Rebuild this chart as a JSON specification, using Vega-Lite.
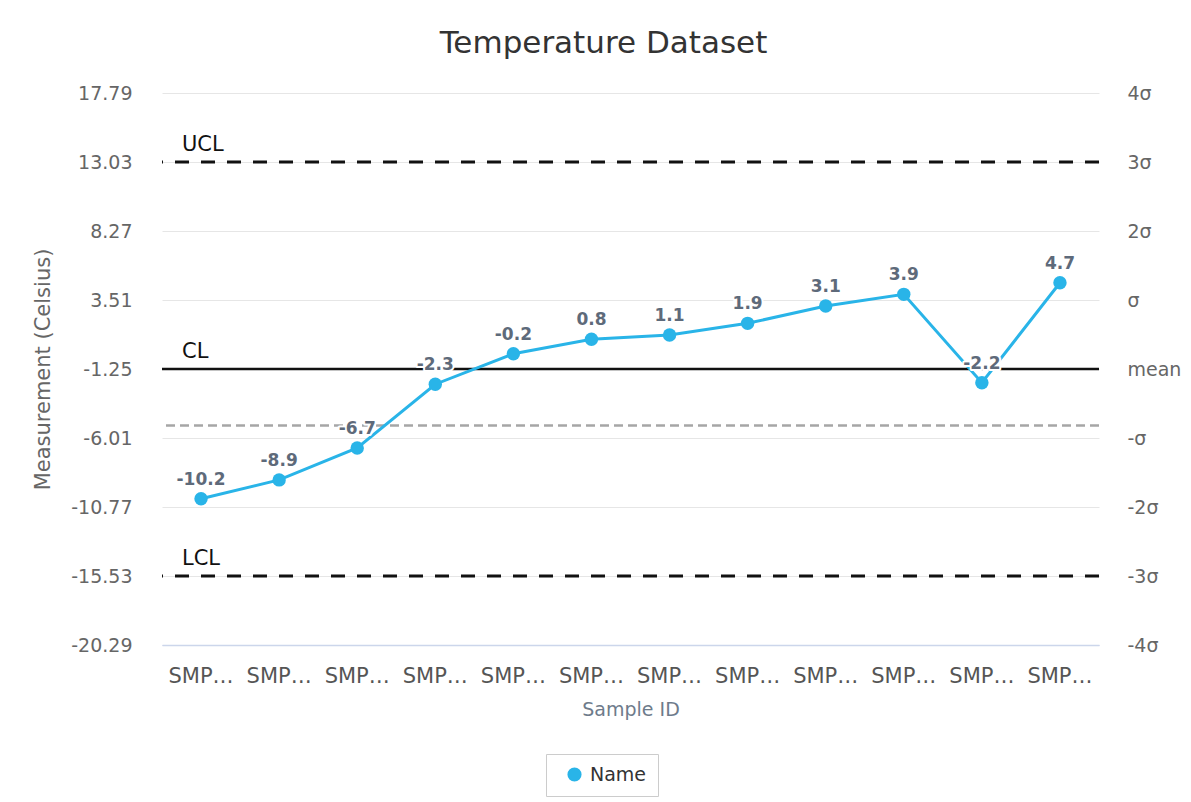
{
  "$schema": "https://vega.github.io/schema/vega-lite/v6.json",
  "width": 937,
  "height": 552,
  "padding": {"left": 32, "top": 28, "right": 5, "bottom": 5},
  "background": "white",
  "title": {"text": "Temperature Dataset", "fontSize": 31, "font": "DejaVu Sans", "fontWeight": "normal", "color": "#333333", "dx": -27, "offset": 24},
  "datasets": {
    "samples": [
      {"id": "SMP-2024-001", "value": -10.2, "series": "Name"},
      {"id": "SMP-2024-002", "value": -8.9, "series": "Name"},
      {"id": "SMP-2024-003", "value": -6.7, "series": "Name"},
      {"id": "SMP-2024-004", "value": -2.3, "series": "Name"},
      {"id": "SMP-2024-005", "value": -0.2, "series": "Name"},
      {"id": "SMP-2024-006", "value": 0.8, "series": "Name"},
      {"id": "SMP-2024-007", "value": 1.1, "series": "Name"},
      {"id": "SMP-2024-008", "value": 1.9, "series": "Name"},
      {"id": "SMP-2024-009", "value": 3.1, "series": "Name"},
      {"id": "SMP-2024-010", "value": 3.9, "series": "Name"},
      {"id": "SMP-2024-011", "value": -2.2, "series": "Name"},
      {"id": "SMP-2024-012", "value": 4.7, "series": "Name"}
    ],
    "limits": [
      {"label": "UCL", "value": 13.03, "id": "SMP-2024-001"},
      {"label": "LCL", "value": -15.53, "id": "SMP-2024-001"}
    ],
    "center": [
      {"label": "CL", "value": -1.25, "id": "SMP-2024-001"}
    ],
    "threshold": [
      {"value": -5.15}
    ]
  },
  "layer": [
    {
      "data": {"name": "samples"},
      "mark": {"type": "rule", "opacity": 0},
      "encoding": {
        "x": {
          "field": "id", "type": "nominal", "sort": null,
          "scale": {"type": "band", "paddingInner": 0, "paddingOuter": 0},
          "axis": {"title": "Sample ID", "titleColor": "#6e7b8b", "titleFontSize": 19, "titleFontWeight": "normal", "titleFont": "DejaVu Sans", "titlePadding": 14, "labelAngle": 0, "labelLimit": 68, "labelFontSize": 21, "labelColor": "#555555", "labelFont": "DejaVu Sans", "labelPadding": 20, "ticks": false, "domainColor": "#ccd6eb", "domainWidth": 1.5, "grid": false}
        },
        "y": {
          "field": "value", "type": "quantitative",
          "scale": {"domain": [-20.29, 17.79], "nice": false, "zero": false},
          "axis": {"orient": "left", "title": "Measurement (Celsius)", "titleColor": "#666666", "titleFontSize": 21, "titleFontWeight": "normal", "titleFont": "DejaVu Sans", "titlePadding": 17, "values": [-20.29, -15.53, -10.77, -6.01, -1.25, 3.51, 8.27, 13.03, 17.79], "format": ".2f", "labelExpr": "replace(datum.label, '\u2212', '-')", "labelFontSize": 19, "labelColor": "#666666", "labelFont": "DejaVu Sans", "labelPadding": 30, "ticks": false, "domain": false, "grid": true, "gridColor": {"condition": {"test": "datum.value < -20", "value": "#ccd6eb"}, "value": "#e6e6e6"}, "gridWidth": 1}
        }
      }
    },
    {
      "data": {"name": "samples"},
      "mark": {"type": "rule", "opacity": 0},
      "encoding": {
        "y": {
          "field": "value", "type": "quantitative",
          "axis": {"orient": "right", "title": null, "values": [-20.29, -15.53, -10.77, -6.01, -1.25, 3.51, 8.27, 13.03, 17.79], "labelExpr": "datum.value > 17 ? '4σ' : datum.value > 12 ? '3σ' : datum.value > 8 ? '2σ' : datum.value > 3 ? 'σ' : datum.value > -2 ? 'mean' : datum.value > -7 ? '-σ' : datum.value > -11 ? '-2σ' : datum.value > -16 ? '-3σ' : '-4σ'", "labelFontSize": 19, "labelColor": "#666666", "labelFont": "DejaVu Sans", "labelPadding": 28, "ticks": false, "domain": false, "grid": false}
        }
      }
    },
    {
      "data": {"name": "threshold"},
      "mark": {"type": "rule", "color": "#a6a6a6", "strokeWidth": 2.5, "strokeDash": [9, 5]},
      "encoding": {"y": {"field": "value", "type": "quantitative", "axis": null}}
    },
    {
      "data": {"name": "limits"},
      "mark": {"type": "rule", "color": "#111111", "strokeWidth": 3, "strokeDash": [14, 12]},
      "encoding": {"y": {"field": "value", "type": "quantitative", "axis": null}}
    },
    {
      "data": {"name": "center"},
      "mark": {"type": "rule", "color": "#111111", "strokeWidth": 2.5},
      "encoding": {"y": {"field": "value", "type": "quantitative", "axis": null}}
    },
    {
      "data": {"name": "limits"},
      "mark": {"type": "text", "align": "left", "baseline": "middle", "dx": 20, "dy": -17, "fontSize": 21, "font": "DejaVu Sans", "color": "#111111"},
      "encoding": {
        "x": {"field": "id", "type": "nominal", "bandPosition": 0},
        "y": {"field": "value", "type": "quantitative", "axis": null},
        "text": {"field": "label"}
      }
    },
    {
      "data": {"name": "center"},
      "mark": {"type": "text", "align": "left", "baseline": "middle", "dx": 20, "dy": -17, "fontSize": 21, "font": "DejaVu Sans", "color": "#111111"},
      "encoding": {
        "x": {"field": "id", "type": "nominal", "bandPosition": 0},
        "y": {"field": "value", "type": "quantitative", "axis": null},
        "text": {"field": "label"}
      }
    },
    {
      "data": {"name": "samples"},
      "mark": {"type": "line", "strokeWidth": 3, "point": {"size": 180, "filled": true, "opacity": 1}},
      "encoding": {
        "x": {"field": "id", "type": "nominal", "sort": null},
        "y": {"field": "value", "type": "quantitative", "axis": null},
        "color": {
          "field": "series", "type": "nominal",
          "scale": {"range": ["#29b4e8"]},
          "legend": {"title": null, "orient": "none", "legendX": 384, "legendY": 661, "strokeColor": "#cccccc", "padding": 11, "symbolOffset": 8, "symbolType": "circle", "symbolSize": 200, "symbolStrokeWidth": 0, "labelFontSize": 19, "labelFont": "DejaVu Sans", "labelColor": "#333333", "labelOffset": 6}
        }
      }
    },
    {
      "data": {"name": "samples"},
      "mark": {"type": "text", "baseline": "middle", "dy": -19, "fontSize": 17, "fontWeight": "bold", "font": "DejaVu Sans", "stroke": "white", "strokeWidth": 4, "strokeJoin": "round", "fill": "white"},
      "encoding": {
        "x": {"field": "id", "type": "nominal", "sort": null},
        "y": {"field": "value", "type": "quantitative", "axis": null},
        "text": {"field": "value", "type": "nominal"}
      }
    },
    {
      "data": {"name": "samples"},
      "mark": {"type": "text", "baseline": "middle", "dy": -19, "fontSize": 17, "fontWeight": "bold", "font": "DejaVu Sans", "color": "#5e6a7a"},
      "encoding": {
        "x": {"field": "id", "type": "nominal", "sort": null},
        "y": {"field": "value", "type": "quantitative", "axis": null},
        "text": {"field": "value", "type": "nominal"}
      }
    }
  ],
  "resolve": {"axis": {"y": "independent"}},
  "config": {"view": {"stroke": null}, "font": "DejaVu Sans"}
}
